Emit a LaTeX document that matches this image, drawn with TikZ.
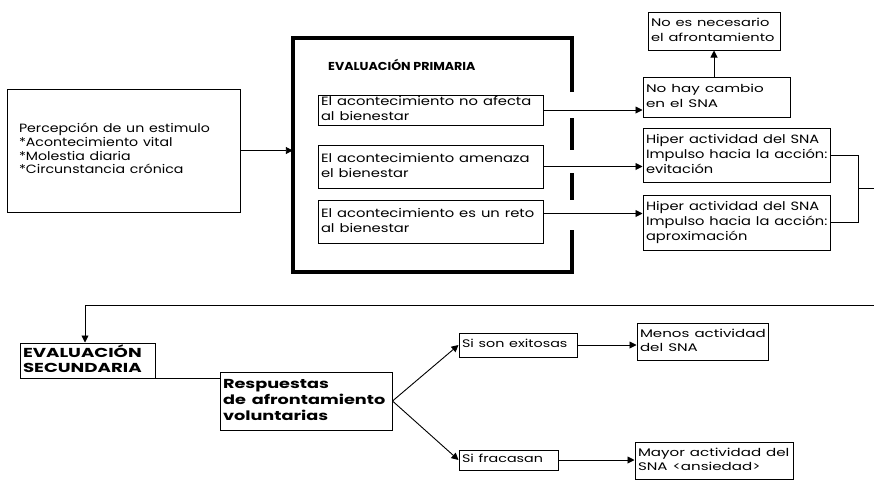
\documentclass[tikz,border=0pt]{standalone}
\usepackage{fontspec}
\setmainfont{Poppins}
\usetikzlibrary{arrows.meta,calc}
\newcommand\sxl[2]{\scalebox{#1}[1]{\begin{tabular}{@{}l@{}}#2\end{tabular}}}
\begin{document}
\begin{tikzpicture}[x=1pt,y=-1pt,
  box/.style={draw,line width=1pt,rectangle,align=left,inner xsep=3pt,inner ysep=0pt,font=\fontsize{11}{14.5}\selectfont},
  arr/.style={line width=0.9pt,-{Triangle[length=7pt,width=7pt]}},
  ln/.style={line width=0.9pt},
  frame/.style={line width=4.5pt}]
\useasboundingbox (0,0) rectangle (874,480);
% left box
\node[box,minimum width=233pt,minimum height=123pt,text width=209pt,inner xsep=12pt,font=\fontsize{12}{13.8}\selectfont] (perc) at (123.5,150.5)
  {\sxl{1.18}{Percepción de un estimulo\\{}*Acontecimiento vital\\{}*Molestia diaria\\{}*Circunstancia crónica}};
% primary evaluation frame
\node[minimum width=279pt,minimum height=234pt,inner sep=0pt] (prim) at (432.5,155) {};
\draw[frame] (572,92) -- (572,38) -- (293,38) -- (293,272) -- (572,272) -- (572,230);
\draw[frame] (572,118) -- (572,150);
\draw[frame] (572,173) -- (572,200);
\node[anchor=west,inner sep=0pt,font=\bfseries\fontsize{11.5}{13}\selectfont] (tprim) at (328,65) {\scalebox{1.1}[1]{EVALUACIÓN PRIMARIA}};
\node[box,font=\fontsize{12}{15}\selectfont,minimum width=225pt,minimum height=30pt,text width=219pt] (a1) at (430.5,110) {\sxl{1.23}{El acontecimiento no afecta\\al bienestar}};
\node[box,font=\fontsize{12}{15}\selectfont,minimum width=225pt,minimum height=43pt,text width=219pt] (a2) at (430.5,166.5) {\sxl{1.23}{El acontecimiento amenaza\\el bienestar}};
\node[box,font=\fontsize{12}{15}\selectfont,minimum width=225pt,minimum height=43pt,text width=219pt] (a3) at (430.5,221.5) {\sxl{1.23}{El acontecimiento es un reto\\al bienestar}};
% right column
\node[box,minimum width=132pt,minimum height=38pt,text width=126pt] (n0) at (714,31) {\sxl{1.33}{No es necesario\\el afrontamiento}};
\node[box,minimum width=147pt,minimum height=40pt,text width=141pt] (n1) at (716.5,97) {\sxl{1.38}{No hay cambio\\en el SNA}};
\node[box,font=\fontsize{12}{15}\selectfont,minimum width=187pt,minimum height=54pt,text width=181pt] (h1) at (736.5,155) {\sxl{1.22}{Hiper actividad del SNA\\Impulso hacia la acción:\\evitación}};
\node[box,font=\fontsize{12}{15}\selectfont,minimum width=187pt,minimum height=55pt,text width=181pt] (h2) at (736.5,222.5) {\sxl{1.22}{Hiper actividad del SNA\\Impulso hacia la acción:\\aproximación}};
% secondary evaluation
\node[box,font=\bfseries\fontsize{13}{15}\selectfont,minimum width=135pt,minimum height=35pt,text width=129pt] (es) at (87.5,360.5) {\sxl{1.4}{EVALUACIÓN\\SECUNDARIA}};
\node[box,font=\bfseries\fontsize{13}{16}\selectfont,minimum width=172pt,minimum height=58pt,text width=166pt] (resp) at (306,401) {\sxl{1.36}{Respuestas\\de afrontamiento\\voluntarias}};
\node[box,minimum width=118pt,minimum height=24pt,text width=112pt] (ok) at (518,345) {\sxl{1.3}{Si son exitosas}};
\node[box,minimum width=99pt,minimum height=20pt,text width=93pt] (fail) at (508.5,460) {\sxl{1.3}{Si fracasan}};
\node[box,minimum width=131pt,minimum height=37pt,text width=125pt] (menos) at (702.5,341.5) {\sxl{1.37}{Menos actividad\\del SNA}};
\node[box,minimum width=158pt,minimum height=37pt,text width=152pt] (mayor) at (714,460.5) {\sxl{1.37}{Mayor actividad del\\SNA <ansiedad>}};
% connectors
\coordinate (j) at (858,188);
\coordinate (e1) at (874,188);
\coordinate (e2) at (874,305);
\coordinate (c1) at (85,305);
\draw[arr] (perc.east) -- (perc.east -| prim.west);
\draw[arr] (a1.east) -- (a1.east -| n1.west);
\draw[arr] (a2.east) -- (a2.east -| h1.west);
\draw[arr] ([yshift=8pt]a3.east) -- ([yshift=8pt]a3.east -| h2.west);
\draw[arr] (n1.north -| n0.south) -- (n0.south);
\draw[ln] (h1.east) -| (j) |- (h2.east);
\draw[ln] (j) -- (e1);
\draw[arr] (e2) -- (c1) -- (c1 |- es.north);
\draw[ln] (es.south east) -- (es.south east -| resp.west);
\draw[arr] (resp.east) -- (ok.west);
\draw[arr] (resp.east) -- (fail.west);
\draw[arr] (ok.east) -- (ok.east -| menos.west);
\draw[arr] (fail.east) -- (fail.east -| mayor.west);
\end{tikzpicture}
\end{document}
